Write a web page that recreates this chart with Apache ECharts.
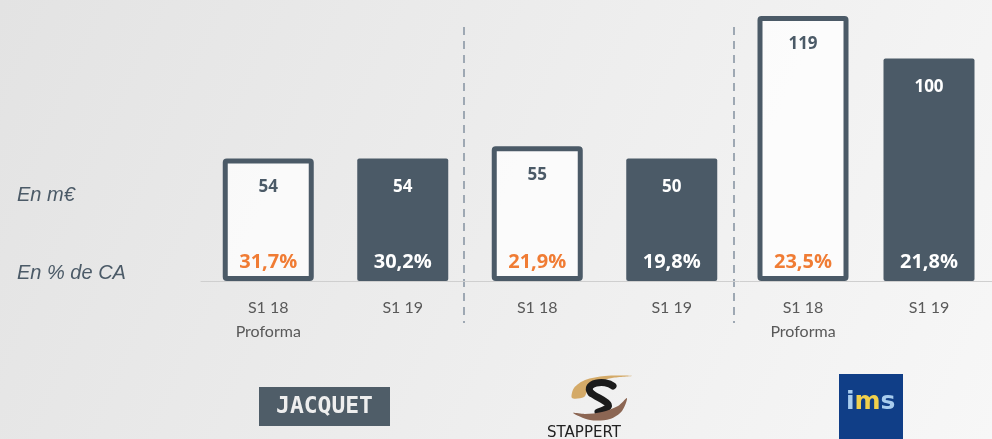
<!DOCTYPE html>
<html lang="fr">
<head>
    <meta charset="utf-8"/>
    <title>EBITDA par société</title>
    <script src="https://cdn.jsdelivr.net/npm/echarts@6/dist/echarts.min.js"></script>
    <style>
        html, body { margin: 0; padding: 0; }
        #main { width: 992px; height: 439px; }
    </style>
</head>
<body>
<div id="main"></div>
<script type="text/javascript">

    // données
    var categories = ['S1 18\nProforma', 'S1 19', 'S1 18', 'S1 19', 'S1 18\nProforma', 'S1 19'];
    var valuesM = [54, 54, 55, 50, 119, 100];      // en m€
    var pctCA = [31.7, 30.2, 21.9, 19.8, 23.5, 21.8]; // en % de CA
    var groupMax = [117.3, 108.6, 119.5];          // chaque groupe a sa propre échelle
    var rowLabels = ['En m€', 'En % de CA'];

    var dark = '#4b5a67';
    var orange = '#f07c34';
    var font = 'Lato';
    var boldFont = 'Open Sans';

    var gridLeft = [201, 470, 740];

    var grids = [], xAxes = [], yAxes = [], series = [];

    for (var g = 0; g < 3; g++) {
        grids.push({left: gridLeft[g], top: 15, width: 269, height: 266});

        xAxes.push({
            type: 'category',
            gridIndex: g,
            data: categories.slice(g * 2, g * 2 + 2),
            axisTick: {show: false},
            axisLine: {lineStyle: {color: '#cfcfcf', width: 1}},
            axisLabel: {
                margin: 15,
                color: '#595959',
                fontSize: 16,
                lineHeight: 24,
                fontFamily: font
            }
        });

        yAxes.push({
            type: 'value',
            gridIndex: g,
            min: 0,
            max: groupMax[g],
            show: false
        });

        var barData = [], pctData = [];
        for (var k = 0; k < 2; k++) {
            var i = g * 2 + k;
            var outlined = (k === 0);
            barData.push({
                value: valuesM[i],
                itemStyle: outlined
                    ? {color: 'rgba(255,255,255,0.75)', borderColor: dark, borderWidth: 5, borderRadius: 1.5}
                    : {color: dark, borderRadius: 2},
                label: {color: outlined ? dark : '#ffffff'}
            });
            pctData.push({
                value: valuesM[i],
                label: {
                    color: outlined ? orange : '#ffffff',
                    formatter: pctCA[i].toFixed(1).replace('.', ',') + '%'
                }
            });
        }

        series.push({
            type: 'bar',
            xAxisIndex: g,
            yAxisIndex: g,
            barWidth: 91,
            barGap: '-100%',
            data: barData,
            label: {
                show: true,
                position: 'insideTop',
                distance: 20,
                fontSize: 17,
                fontWeight: 'bold',
                fontFamily: boldFont
            },
            silent: true
        });

        series.push({
            type: 'bar',
            xAxisIndex: g,
            yAxisIndex: g,
            barWidth: 91,
            barGap: '-100%',
            data: pctData,
            itemStyle: {color: 'transparent'},
            label: {
                show: true,
                position: 'insideBottom',
                distance: 9,
                fontSize: 20,
                fontWeight: 'bold',
                fontFamily: boldFont
            },
            silent: true,
            z: 3
        });
    }

    // séparateurs, libellés de gauche et logos
    var graphics = [];
    [464, 734].forEach(function (x) {
        graphics.push({
            type: 'line',
            shape: {x1: x, y1: 27, x2: x, y2: 323},
            style: {stroke: '#9ea8b3', lineWidth: 2, lineDash: [8, 6]},
            silent: true
        });
    });

    graphics.push({
        type: 'text', x: 17, y: 195,
        style: {text: rowLabels[0], font: 'italic 20px "Liberation Sans"', fill: dark, verticalAlign: 'middle'}
    });
    graphics.push({
        type: 'text', x: 17, y: 273,
        style: {text: rowLabels[1], font: 'italic 20px "Liberation Sans"', fill: dark, verticalAlign: 'middle'}
    });

    // logo Jacquet
    graphics.push({
        type: 'rect',
        shape: {x: 259, y: 387, width: 131, height: 39},
        style: {fill: '#4f5d68'}
    });
    graphics.push({
        type: 'text',
        x: 324.5, y: 407,
        style: {
            text: 'JACQUET', font: 'bold 23px "DejaVu Sans Mono"', fill: '#eeeeee',
            align: 'center', verticalAlign: 'middle'
        }
    });

    // logo Stappert
    graphics.push({
        type: 'polygon',
        shape: {
            points: [[572, 398], [574, 388], [585, 380], [605, 376], [632, 376],
                     [612, 378], [596, 383], [588, 390], [584, 397]],
            smooth: 0.3
        },
        style: {fill: '#d4aa68'}
    });
    graphics.push({
        type: 'bezierCurve',
        shape: {x1: 613, y1: 386, cpx1: 605, cpy1: 379, cpx2: 583, cpy2: 383, x2: 591, y2: 393},
        style: {stroke: '#1b1b1b', lineWidth: 7, fill: null, lineCap: 'round'}
    });
    graphics.push({
        type: 'bezierCurve',
        shape: {x1: 591, y1: 393, cpx1: 600, cpy1: 400, cpx2: 621, cpy2: 405, x2: 598, y2: 412},
        style: {stroke: '#1b1b1b', lineWidth: 7, fill: null, lineCap: 'round'}
    });
    graphics.push({
        type: 'polygon',
        shape: {
            points: [[573, 413], [590, 420], [610, 419], [622, 411], [627, 398],
                     [618, 406], [602, 412], [585, 414]],
            smooth: 0.3
        },
        style: {fill: '#8c6653'}
    });
    graphics.push({
        type: 'text',
        x: 584, y: 433,
        style: {
            text: 'STAPPERT', font: '15px "DejaVu Sans"', fill: '#222222',
            align: 'center', verticalAlign: 'middle'
        }
    });

    // logo ims
    graphics.push({
        type: 'rect',
        shape: {x: 839, y: 374, width: 64, height: 65},
        style: {fill: '#103e87'}
    });
    graphics.push({
        type: 'text',
        x: 846, y: 402,
        style: {
            text: '{a|i}{b|m}{a|s}',
            verticalAlign: 'middle',
            rich: {
                a: {fontSize: 25, fontWeight: 'bold', fontFamily: 'DejaVu Sans', fill: '#a9cdee'},
                b: {fontSize: 25, fontWeight: 'bold', fontFamily: 'DejaVu Sans', fill: '#f1d04c'}
            }
        }
    });

    var myChart = echarts.init(document.getElementById('main'));

    myChart.setOption({
        animation: false,
        backgroundColor: {
            type: 'linear', x: 0, y: 0, x2: 1, y2: 1,
            colorStops: [
                {offset: 0, color: '#e3e3e3'},
                {offset: 0.5, color: '#ededed'},
                {offset: 1, color: '#f7f7f7'}
            ]
        },
        grid: grids,
        xAxis: xAxes,
        yAxis: yAxes,
        series: series,
        graphic: graphics
    });
</script>
</body>
</html>
